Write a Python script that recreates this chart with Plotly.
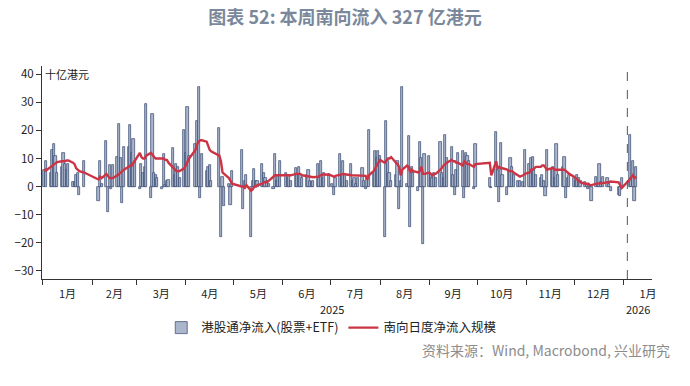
import pandas as pd
import plotly.graph_objects as go

# Southbound Stock Connect closed days (weekdays)
holidays = ["2025-01-01", "2025-01-28", "2025-01-29", "2025-01-30", "2025-01-31",
            "2025-02-03", "2025-02-04", "2025-04-04", "2025-04-18", "2025-04-21",
            "2025-05-01", "2025-05-02", "2025-05-05", "2025-06-02", "2025-07-01",
            "2025-10-01", "2025-10-02", "2025-10-03", "2025-10-06", "2025-10-07",
            "2025-10-08", "2025-10-29", "2025-12-25", "2025-12-26",
            "2026-01-01", "2026-01-02"]

# Daily net inflow (十亿港元), per month
bar_jan25 = [6, 9, 5, 13, 15, 11, 5, 7, 12, 8, 6, 8, 1.5, 1.5, 4, 5, -3, 9]
bar_feb25 = [-5, 9, 1, 16.4, -9, 7.5, -1, 7.5, 10.5, 22.4, 10, -6, 14, 14, 22, 12, 17, 9]
bar_mar25 = [-1, 8, 5, 7, 29.5, -4, 26, 5, 4, 3, -1, 11.5, 0.5, 2, 2.5, 13.8, 4, 8, 7, 3, 20]
bar_apr25 = [12, 28.5, 11, 15, 23.5, 35.5, -4, 11.5, 5.5, 7, 7.5, 2, 21, -18, 3.5, -7, 1, -6.5, 5.5]
bar_may25 = [13, -8, 2, 4, -18, 2, 6.4, 2, 2, 8, 5, 3, 2, 1, -1, 11.5, 2, 4, 9]
bar_jun25 = [5, 3, 4, 2, 6.5, 4, 7, 4, 3, 4, 6, 2, 1.5, 2, 8, 3, 9, 3, 5, 4.5]
bar_jul25 = [1, -3, 3, 11.5, 4, 9, 4, 2, 8, 2, 3, 1, 3, 6.5, 2, -1, 3, 20, 5, 12.5, 10, 12.5]
bar_aug25 = [11, -18, 23.5, 9, 5, 2, 4, 9, -8, 2, 35.5, 1, 18, -14.5, 7, 5, -1.5, 16, 10, -20.5, 11.5]
bar_sep25 = [11, 4, 3, 5, 3, 16, 5, 3, 18.5, 10, 14, 4, -3, 6, 12, 12.5, -4, 12, 11, 9, -1, 15]
bar_oct25 = [3, -0.5, 19.5, 6, -5.5, 15.5, 4, -3, 6, 10, 7, 4, 2, 2, 1.5, 13]
bar_nov25 = [8, 10, 10.5, 6, 4, 3, 4, 2, -3.5, 13, 6, 7, 3, 15, 4, 7, 10.5, -4, 3, 4]
bar_dec25 = [3, 2, 4, 3, 2, 1.5, 1, -1, 0.5, -5, 3.5, 1, 8, 1.5, 3.5, 3, 1, -1.5, -3, -3.5, 3]
bar_jan26 = [18.5, 3.2, 9, -5, 7]

# 南向日度净流入规模 (line), per month
line_jan25 = [6.3, 5.7, 7, 7.5, 8, 8.5, 8.7, 9, 9, 9, 9.3, 9.3, 8.5, 8, 6.5, 6, 5.5, 5]
line_feb25 = [2.5, 3.5, 3, 4.5, 3.5, 3, 3, 3, 4, 4.5, 5, 5.5, 6, 7, 7.5, 7.5, 8.5, 9.5]
line_mar25 = [12, 10.5, 10, 10, 11, 12, 11, 10.5, 10, 10, 10, 10, 9.5, 9.5, 8.5, 6.5, 6, 5.5, 5.5, 5.5, 6.5]
line_apr25 = [7.5, 9, 10, 13, 15, 16, 16.5, 16.5, 16, 14.5, 13, 12.5, 11, 9, 5, 4.5, 3, 2, 1]
line_may25 = [0, 0, -0.5, 0.5, -1.5, -1, 0, 0, 0.5, 1, 1.5, 1.5, 1.5, 2, 3.5, 4, 4, 4, 4]
line_jun25 = [4, 4, 4, 4, 4.5, 4.5, 4.5, 4.5, 4, 3.8, 3.7, 3.5, 3.5, 3.3, 3.5, 3.8, 4, 4.3, 4.3, 4.2]
line_jul25 = [3.8, 3.5, 3.8, 4, 4.3, 4.5, 4.5, 4.3, 4, 4, 4, 3.8, 4, 4, 4, 3.8, 2.5, 4, 5.5, 6.5, 7.5, 8.5]
line_aug25 = [9.5, 8.5, 9.5, 10, 10, 10.5, 8.5, 8, 7, 4, 6, 7.5, 7, 5, 6, 5.5, 5, 5.5, 7, 4.5, 4.5]
line_sep25 = [5, 4.5, 4, 4.5, 4.5, 6, 7, 7.5, 8, 8.5, 9.5, 9, 9, 8.5, 8.5, 7.5, 9, 8.5, 8, 8, 7, 8]
line_oct25 = [8.5, 4, 9, 6.5, 7, 6.5, 6.5, 6, 5.5, 5.5, 5.5, 5, 4, 3.5, 4, 4.5]
line_nov25 = [5, 6, 6, 6.5, 7, 7, 7.5, 7.5, 6.5, 6, 6.5, 6.5, 6, 6, 6, 6, 6, 5.5, 5, 4.5]
line_dec25 = [3.5, 3, 2.5, 2, 1.5, 1, 1, 1, 0.5, 0.5, 1, 1, 1, 1.2, 1.2, 1.5, 1.5, 1.8, 1.5, 0.5, -0.5]
line_jan26 = [2.5, 3.5, 4, 3, 3.5]

bar_values = (bar_jan25 + bar_feb25 + bar_mar25 + bar_apr25 + bar_may25 + bar_jun25 +
              bar_jul25 + bar_aug25 + bar_sep25 + bar_oct25 + bar_nov25 + bar_dec25 + bar_jan26)
line_values = (line_jan25 + line_feb25 + line_mar25 + line_apr25 + line_may25 + line_jun25 +
               line_jul25 + line_aug25 + line_sep25 + line_oct25 + line_nov25 + line_dec25 + line_jan26)

trade_days = pd.bdate_range("2025-01-01", "2026-01-09")
trade_days = trade_days[~trade_days.isin(pd.to_datetime(holidays))]
n = min(len(trade_days), len(bar_values), len(line_values))
dates = trade_days[:n]

title_text = "图表 52: 本周南向流入 327 亿港元"
unit_text = "十亿港元"
bar_name = "港股通净流入(股票+ETF)"
line_name = "南向日度净流入规模"
source_text = "资料来源：Wind, Macrobond, 兴业研究"
year_labels = [("2025-07-02", "2025"), ("2026-01-10", "2026")]
y_ticks = [-30, -20, -10, 0, 10, 20, 30, 40]

FONT = "Noto Sans CJK SC"
DAY_MS = 86400000

fig = go.Figure()
fig.add_trace(go.Bar(
    x=dates, y=bar_values[:n], name=bar_name,
    width=1.35 * DAY_MS,
    marker=dict(color="#aab6cc", line=dict(color="#34456b", width=0.7)),
))
fig.add_trace(go.Scatter(
    x=dates, y=line_values[:n], name=line_name, mode="lines",
    line=dict(color="#cc3445", width=2.4),
))

fig.add_shape(type="line", xref="x", yref="paper",
              x0="2026-01-03 12:00", x1="2026-01-03 12:00", y0=0, y1=1.0,
              line=dict(color="#555555", width=1, dash="dash"))

annotations = [
    dict(text=unit_text, xref="paper", yref="y", x=0, y=40, xanchor="left",
         yanchor="middle", xshift=1, showarrow=False,
         font=dict(family=FONT, size=11, color="#222222")),
    dict(text=source_text, xref="paper", yref="paper", x=1.033, y=-0.333,
         xanchor="right", yanchor="middle", showarrow=False,
         font=dict(family=FONT, size=14, color="#8c8c8c")),
]
for xd, t in year_labels:
    annotations.append(dict(text=t, xref="x", yref="paper", x=xd, y=-0.143,
                            xanchor="center", yanchor="middle", showarrow=False,
                            font=dict(family=FONT, size=11, color="#222222")))

fig.update_layout(
    width=690, height=386,
    margin=dict(l=42, r=38, t=66, b=107),
    paper_bgcolor="white", plot_bgcolor="white",
    title=dict(text=title_text, x=0.5, xref="container", xanchor="center",
               y=0.953, yref="container", yanchor="middle",
               font=dict(family=FONT, size=18, color="#7b889b", weight="bold")),
    font=dict(family=FONT, size=11.5, color="#222222"),
    bargap=0,
    showlegend=True,
    legend=dict(orientation="h", x=0.475, xanchor="center", y=-0.23, yanchor="middle",
                font=dict(family=FONT, size=12.5, color="#222222"),
                bgcolor="rgba(0,0,0,0)", itemwidth=30),
    annotations=annotations,
)
fig.update_xaxes(
    type="date", range=["2024-12-31 12:00", "2026-01-19"],
    tick0="2025-01-01", dtick="M1", tickformat="%-m月", ticklabelmode="period",
    ticks="outside", ticklen=5, tickcolor="#333333", tickwidth=1,
    showline=True, linecolor="#333333", linewidth=1, showgrid=False, zeroline=False,
    tickfont=dict(family=FONT, size=11, color="#222222"),
)
fig.update_yaxes(
    range=[-33, 43], tickvals=y_ticks,
    ticks="outside", ticklen=5, tickcolor="#333333",
    showline=True, linecolor="#333333", linewidth=1, showgrid=False, zeroline=False,
    tickfont=dict(family=FONT, size=11.5, color="#222222"),
)

fig.write_html("out.html", config={"displayModeBar": False},
               post_script="document.body.style.margin='0';")
